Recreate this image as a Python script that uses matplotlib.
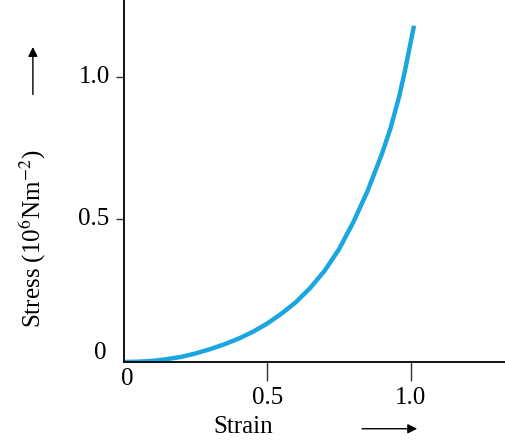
import matplotlib
matplotlib.use("Agg")
import matplotlib.pyplot as plt

strain = [0, 0.05, 0.1, 0.15, 0.2, 0.25, 0.3, 0.35, 0.4, 0.45, 0.5, 0.55, 0.6, 0.65, 0.7, 0.75,
          0.8, 0.85, 0.9, 0.93, 0.96, 0.98, 1.0, 1.012]
stress = [0, 0.001, 0.004, 0.010, 0.018, 0.030, 0.045, 0.062, 0.082, 0.106, 0.135, 0.170, 0.21, 0.26,
          0.32, 0.395, 0.49, 0.60, 0.73, 0.82, 0.93, 1.02, 1.12, 1.18]
xticks = [0.5, 1.0]
yticks = [0.5, 1.0]

plt.rcParams['font.family'] = ['Liberation Serif', 'DejaVu Serif']
plt.rcParams['mathtext.fontset'] = 'stix'
fig = plt.figure(figsize=(5.06, 4.42), dpi=100)
ax = fig.add_axes([0.245, 0.181, 0.755, 0.819])
ax.plot(strain, stress, color='#1aa7e0', lw=3.2, solid_capstyle='butt', solid_joinstyle='round')
ax.set_xlim(0, 1.333)
ax.set_ylim(0, 1.27)
for s in ['top', 'right']:
    ax.spines[s].set_visible(False)
for s in ['left', 'bottom']:
    ax.spines[s].set_linewidth(1.3)
ax.set_xticks(xticks)
ax.set_yticks(yticks)
ax.set_xticklabels([]); ax.set_yticklabels([])
ax.tick_params(axis='x', length=14, width=1, direction='out', color='#333')
ax.tick_params(axis='y', length=6, width=1, direction='out', color='#333')
fs = 18
for t in xticks:
    ax.text(t, -0.125, f"{t:.1f}", ha='center', va='center', fontsize=fs, clip_on=False)
for t in yticks:
    ax.text(-0.05, t, f"{t:.1f}", ha='right', va='center', fontsize=fs, clip_on=False)
ax.text(0.01, -0.06, "0", ha='center', va='center', fontsize=fs, clip_on=False)
ax.text(-0.06, 0.03, "0", ha='right', va='center', fontsize=fs, clip_on=False)
fig.text(0.48, 0.035, "Strain", ha='center', va='center', fontsize=fs)
fig.add_artist(matplotlib.patches.FancyArrowPatch((0.71, 0.03), (0.83, 0.03), transform=fig.transFigure,
               arrowstyle='-|>', mutation_scale=14, color='black', lw=1))
fig.text(0.065, 0.46, r"Stress (10$^{6}$Nm$^{-2}$)", rotation=90, ha='center', va='center', fontsize=fs)
fig.add_artist(matplotlib.patches.FancyArrowPatch((0.065, 0.78), (0.065, 0.9), transform=fig.transFigure,
               arrowstyle='-|>', mutation_scale=14, color='black', lw=1))
fig.savefig("out.png", dpi=100)
